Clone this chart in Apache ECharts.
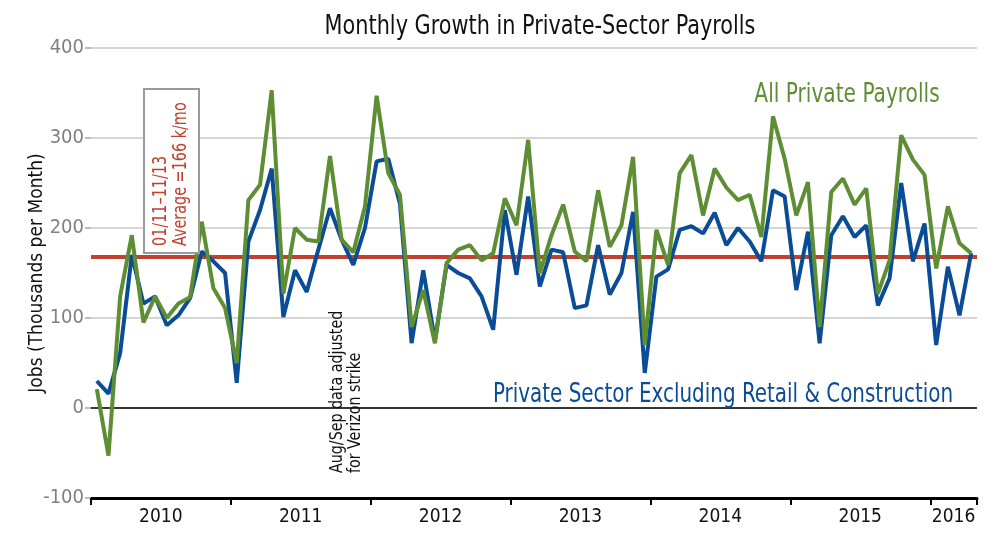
<!DOCTYPE html>
<html>
<head>
<meta charset="utf-8">
<title>Monthly Growth in Private-Sector Payrolls</title>
<script src="https://cdn.jsdelivr.net/npm/echarts@6/dist/echarts.min.js"></script>
<style>
html, body { margin: 0; padding: 0; background: #fff; }
#chart { width: 1002px; height: 540px; }
</style>
</head>
<body>
<div id="chart"></div>
<script>
// data, thousands of jobs per month, Jan 2010 .. Apr 2016
var years = ['2010', '2011', '2012', '2013', '2014', '2015', '2016'];
var monthsInYear = [12, 12, 12, 12, 12, 12, 4];
var allPrivate = [
	21, -53, 124, 192, 95, 124, 100, 116, 123, 207, 133, 111,
	50, 231, 248, 353, 127, 200, 187, 185, 280, 187, 173, 224,
	347, 261, 237, 90, 131, 72, 161, 176, 181, 164, 172, 233,
	203, 298, 150, 192, 226, 174, 163, 242, 179, 203, 279, 70,
	198, 159, 261, 281, 214, 266, 245, 231, 237, 190, 324, 277,
	214, 251, 90, 240, 255, 226, 244, 127, 164, 303, 276, 259,
	155, 224, 183, 172
];
var exRetailConstruction = [
	30, 16, 61, 170, 116, 124, 92, 103, 122, 174, 163, 150,
	28, 185, 220, 266, 101, 153, 129, 176, 222, 187, 159, 200,
	274, 277, 227, 72, 153, 75, 159, 150, 144, 124, 87, 220,
	148, 235, 135, 176, 173, 111, 114, 181, 126, 150, 218, 39,
	146, 154, 198, 202, 194, 217, 181, 200, 185, 163, 242, 235,
	131, 196, 72, 192, 213, 190, 203, 114, 144, 250, 163, 205,
	70, 157, 103, 172
];
var averageLine = 168; // 01/11-11/13 average as drawn
var yMin = -100, yMax = 400, yStep = 100;

var FONT = "'Liberation Sans Narrow', 'DejaVu Sans Condensed', sans-serif";
var GREEN = '#5e8e33', BLUE = '#0a4c96', RED = '#c0412e';

// month categories and where the year labels go (middle of each year)
var months = [], yearLabelAt = {};
years.forEach(function(y, k) {
	yearLabelAt[months.length + monthsInYear[k] / 2] = y;
	for (var m = 1; m <= monthsInYear[k]; m++) {
		months.push(y + '-' + (m < 10 ? '0' + m : m));
	}
});

var chart = echarts.init(document.getElementById('chart'));

// text squeezed along its own direction, the fonts here are wider than the original
function label(x, y, text, color, size, squeeze, rotated, align) {
	return {
		type: 'text', x: x, y: y, z: 120,
		rotation: rotated ? Math.PI / 2 : 0,
		scaleX: squeeze,
		style: {
			text: text, fill: color, fontSize: size, fontFamily: FONT,
			align: align, textAlign: align,
			verticalAlign: 'middle', textVerticalAlign: 'middle'
		}
	};
}

chart.setOption({
	animation: false,
	textStyle: { fontFamily: FONT },
	grid: { left: 91, right: 25, top: 48, bottom: 42 },
	xAxis: {
		type: 'category',
		data: months,
		boundaryGap: true,
		axisLine: { onZero: false, lineStyle: { color: '#000', width: 3 } },
		axisTick: {
			show: true,
			length: 7,
			interval: 11, // one tick per January
			lineStyle: { color: '#000', width: 2 }
		},
		axisLabel: {
			interval: function(index) { return yearLabelAt[index] !== undefined; },
			formatter: function(value, index) { return '{y|' + yearLabelAt[index] + '}'; },
			margin: 10,
			rich: { y: { fontSize: 19, color: '#111', fontFamily: FONT, padding: [0, 12, 0, 0] } }
		},
		splitLine: { show: false }
	},
	yAxis: {
		type: 'value',
		min: yMin, max: yMax, interval: yStep,
		name: 'Jobs (Thousands per Month)',
		nameLocation: 'middle',
		nameGap: 44,
		nameMoveOverlap: false,
		nameTextStyle: { fontSize: 19, color: '#111', fontFamily: FONT },
		axisLine: { show: false },
		axisTick: { show: true, length: 6, lineStyle: { color: '#bbb', width: 2 } },
		axisLabel: { fontSize: 20, color: '#808080', margin: 7, fontFamily: FONT },
		splitLine: { lineStyle: { color: '#d6d6d6', width: 2 } }
	},
	series: [{
		name: 'Private Sector Excluding Retail & Construction',
		type: 'line',
		data: exRetailConstruction,
		symbol: 'none',
		z: 3,
		lineStyle: { color: BLUE, width: 4 },
		markLine: {
			z: 1,
			silent: true,
			symbol: 'none',
			label: { show: false },
			data: [
				{ yAxis: 0, lineStyle: { color: '#000', width: 1.5, type: 'solid' } },
				{ yAxis: averageLine, lineStyle: { color: RED, width: 4, type: 'solid' } }
			]
		}
	}, {
		name: 'All Private Payrolls',
		type: 'line',
		data: allPrivate,
		symbol: 'none',
		z: 4,
		lineStyle: { color: GREEN, width: 4 }
	}],
	graphic: [
		label(540, 27, 'Monthly Growth in Private-Sector Payrolls', '#111', 26, 0.89, false, 'center'),
		label(847, 95, 'All Private Payrolls', GREEN, 27, 0.83, false, 'center'),
		label(723, 395, 'Private Sector Excluding Retail & Construction', BLUE, 27, 0.82, false, 'center'),
		{
			type: 'rect', z: 110,
			shape: { x: 144, y: 89, width: 55, height: 164 },
			style: { fill: '#fff', stroke: '#9a9a9a', lineWidth: 2 }
		},
		label(161, 246, '01/11\u201311/13', RED, 20, 0.8, true, 'left'),
		label(181, 246, 'Average =166 k/mo', RED, 20, 0.8, true, 'left'),
		label(337, 473, 'Aug/Sep data adjusted', '#111', 18, 0.88, true, 'left'),
		label(355, 473, 'for Verizon strike', '#111', 18, 0.88, true, 'left')
	]
});
</script>
</body>
</html>
